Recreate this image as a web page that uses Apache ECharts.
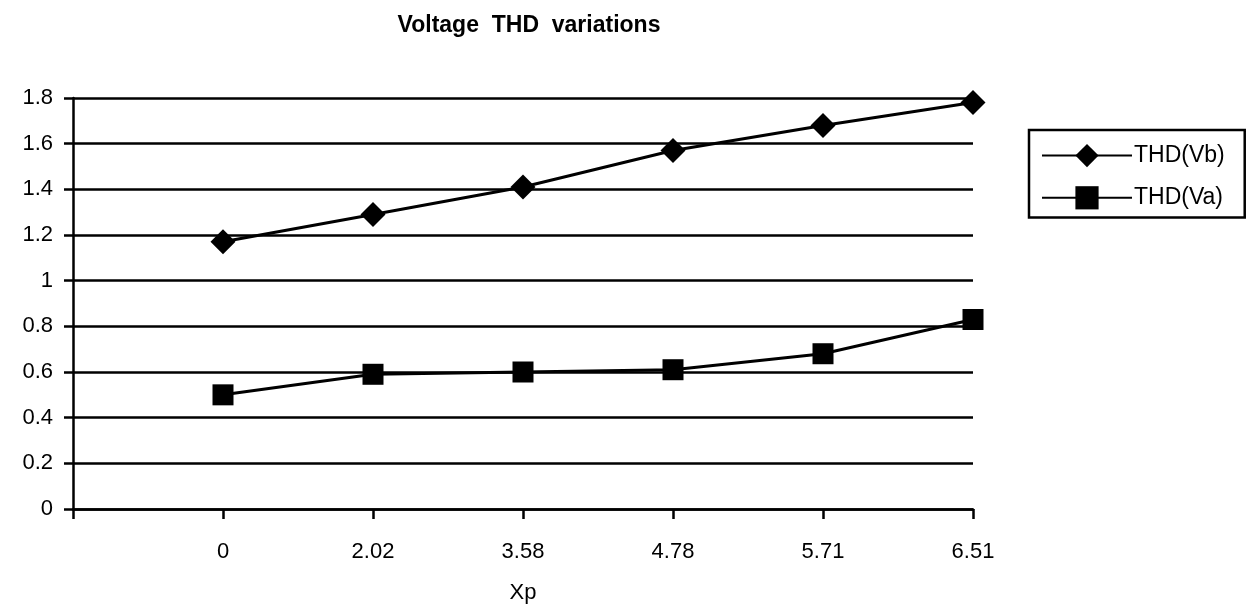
<!DOCTYPE html>
<html>
<head>
<meta charset="utf-8">
<script src="https://cdn.jsdelivr.net/npm/echarts@6/dist/echarts.min.js"></script>
<style>html,body{margin:0;padding:0;background:#fff;}#c{width:1250px;height:611px;}</style>
</head>
<body>
<div id="c"></div>
<script>
const categories = ['', '0', '2.02', '3.58', '4.78', '5.71', '6.51'];
const thdVb = ['-', 1.17, 1.29, 1.41, 1.57, 1.68, 1.78];
const thdVa = ['-', 0.50, 0.59, 0.60, 0.61, 0.68, 0.83];

const chart = echarts.init(document.getElementById('c'));
const font = 'Arial, "Liberation Sans", Helvetica, sans-serif';
chart.setOption({
  backgroundColor: '#fff',
  animation: false,
  title: {
    text: 'Voltage  THD  variations',
    left: 524, top: 9, textAlign: 'center',
    textStyle: { fontFamily: font, fontWeight: 'bold', fontSize: 23, color: '#000' }
  },
  legend: {
    orient: 'vertical',
    left: 1029, top: 130,
    padding: [14, 20, 8, 12],
    itemGap: 19,
    borderColor: '#000', borderWidth: 2.5,
    itemWidth: 90, itemHeight: 29,
    textStyle: { fontFamily: font, fontSize: 23, color: '#000', padding: [0, 0, 0, -3] },
    data: ['THD(Vb)', 'THD(Va)']
  },
  grid: { left: 73, right: 277, top: 98, bottom: 102 },
  xAxis: {
    type: 'category',
    data: categories,
    boundaryGap: false,
    name: 'Xp', nameLocation: 'middle', nameGap: 73,
    nameTextStyle: { fontFamily: font, fontSize: 22, color: '#000' },
    axisLine: { lineStyle: { color: '#000', width: 2.5 } },
    axisTick: { show: true, length: 10, lineStyle: { color: '#000', width: 2.5 } },
    axisLabel: { fontFamily: font, fontSize: 22, color: '#000', margin: 32 },
    splitLine: { show: false }
  },
  yAxis: {
    type: 'value', min: 0, max: 1.8, interval: 0.2,
    axisLine: { show: true, lineStyle: { color: '#000', width: 2.5 } },
    axisTick: { show: true, length: 9, lineStyle: { color: '#000', width: 2.5 } },
    axisLabel: { fontFamily: font, fontSize: 22, color: '#000', margin: 20 },
    splitLine: { show: true, lineStyle: { color: '#000', width: 2.5 } }
  },
  series: [
    {
      name: 'THD(Vb)', type: 'line', data: thdVb,
      symbol: 'diamond', symbolSize: 25, showAllSymbol: true,
      itemStyle: { color: '#000' },
      lineStyle: { color: '#000', width: 3 }
    },
    {
      name: 'THD(Va)', type: 'line', data: thdVa,
      symbol: 'rect', symbolSize: 21, showAllSymbol: true,
      itemStyle: { color: '#000' },
      lineStyle: { color: '#000', width: 3 }
    }
  ]
});
</script>
</body>
</html>
